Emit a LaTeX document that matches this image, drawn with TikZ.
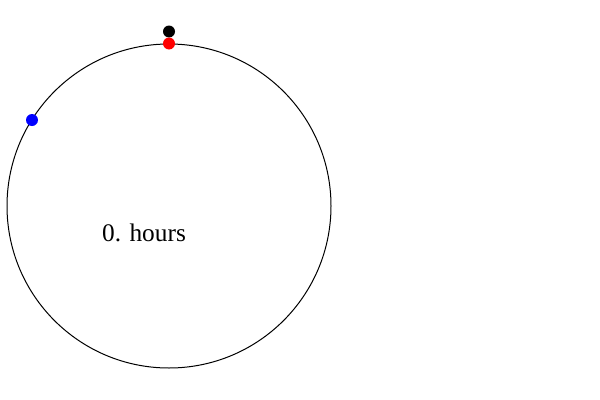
\documentclass[tikz,border=0pt]{standalone}
\usepackage{fontspec}
\setmainfont{Liberation Serif}
\usepackage{tikz}

\begin{document}
\begin{tikzpicture}[x=0.75pt,y=0.75pt,yscale=-1,xscale=1]
\useasboundingbox (0,0) rectangle (600,400);

%Shape: Circle [id:orbit] 
\draw [line width=0.75]  (169,206) circle [radius=162] ;
\coordinate (centre) at (169,206);

%Shape: Circle [id:dot black] 
\fill [black]  (169,31.5) circle [radius=6] coordinate (blackdot) ;
%Shape: Circle [id:dot red] 
\fill [red]  (169,43.5) circle [radius=6] coordinate (reddot) ;
%Shape: Circle [id:dot blue] 
\fill [blue]  (32,120) circle [radius=6] coordinate (bluedot) ;

% Text Node
\node [anchor=base, font=\fontsize{19}{22}\selectfont] (hours) at (144,241) {0. hours};

\end{tikzpicture}
\end{document}
